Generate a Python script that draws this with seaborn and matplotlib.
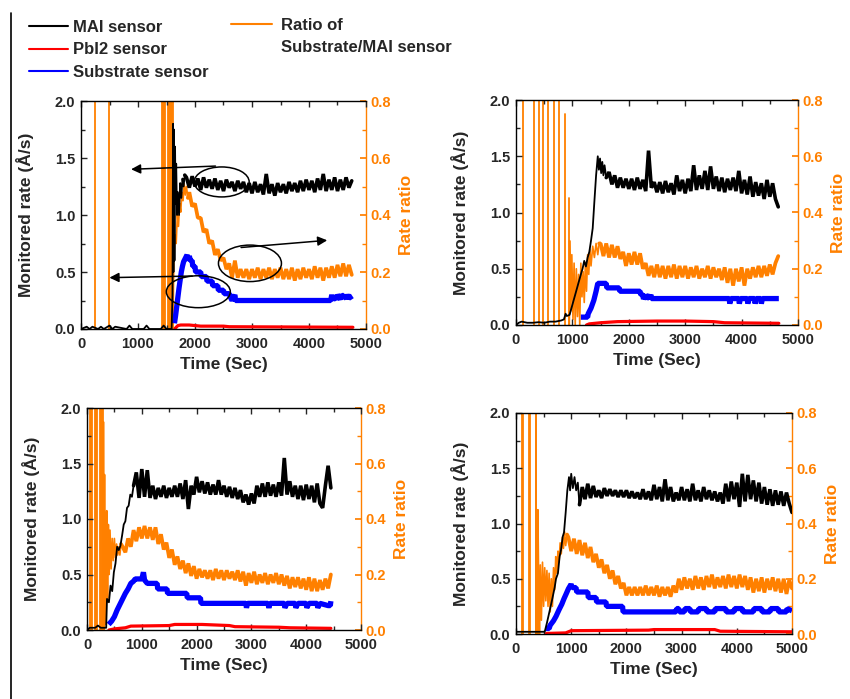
import numpy as np
import pandas as pd
import matplotlib
matplotlib.use("Agg")
import matplotlib.pyplot as plt
import seaborn as sns
from matplotlib.lines import Line2D
from matplotlib.patches import Ellipse
from matplotlib.ticker import MultipleLocator, FormatStrFormatter

sns.set_theme(style="white")
plt.rcParams['font.family'] = ['Liberation Sans', 'DejaVu Sans']
plt.rcParams['font.weight'] = 'bold'
plt.rcParams['axes.labelweight'] = 'bold'

ORANGE = '#FF8000'
STEP = 50  # sampling step (s) of the noisy plateaus

# ---------------- Panel 1 (top-left) ----------------
p1_mai_t = [0, 100, 150, 200, 300, 350, 400, 500, 550, 600, 800, 850, 900, 1100, 1150, 1200, 1400, 1450, 1500,
            1590, 1605, 1615, 1622, 1630, 1640, 1650, 1660, 1670, 1685, 1700, 1720, 1740, 1760, 1780, 1800, 1820]
p1_mai_v = [0.0, 0.02, 0.0, 0.02, 0.0, 0.02, 0.0, 0.03, 0.0, 0.02, 0.0, 0.03, 0.0, 0.0, 0.03, 0.0, 0.0, 0.03, 0.0,
            0.0, 0.3, 1.8, 0.5, 1.75, 0.6, 1.6, 1.1, 1.45, 1.0, 1.2, 1.0, 1.28, 1.15, 1.32, 1.25, 1.35]
p1_mai_start = 1850
p1_mai_reg = [1.33, 1.24, 1.34, 1.25, 1.32, 1.22, 1.33, 1.24, 1.31, 1.23, 1.32, 1.22, 1.30, 1.21, 1.31, 1.24,
              1.29, 1.21, 1.30, 1.23, 1.29, 1.20, 1.28, 1.19, 1.29, 1.20, 1.27, 1.18, 1.36, 1.19, 1.27, 1.17,
              1.28, 1.20, 1.27, 1.19, 1.29, 1.21, 1.28, 1.20, 1.30, 1.21, 1.31, 1.22, 1.30, 1.20, 1.32, 1.22,
              1.36, 1.21, 1.31, 1.22, 1.33, 1.21, 1.31, 1.22, 1.33, 1.24, 1.30]
p1_spike_t = [245, 497, 1425, 1440, 1455, 1470, 1535, 1550, 1565, 1580, 1595, 1608]
p1_spike_top = [1.0] * 12
p1_ratio_t = [1612, 1630, 1650, 1670, 1690, 1710, 1730, 1750, 1770, 1790, 1810, 1830, 1850, 1875]
p1_ratio_v = [0.0, 0.25, 0.33, 0.30, 0.40, 0.36, 0.44, 0.41, 0.48, 0.45, 0.51, 0.47, 0.50, 0.46]
p1_ratio_start = 1900
p1_ratio_reg = [0.48, 0.43, 0.44, 0.39, 0.39, 0.34, 0.35, 0.30, 0.31, 0.26, 0.28, 0.24, 0.25, 0.21, 0.23, 0.18,
                0.24, 0.18, 0.21, 0.18, 0.21, 0.175, 0.21, 0.18, 0.215, 0.175, 0.21, 0.18, 0.215, 0.175, 0.21,
                0.18, 0.215, 0.175, 0.21, 0.175, 0.215, 0.17, 0.21, 0.175, 0.215, 0.18, 0.21, 0.175, 0.22, 0.18,
                0.215, 0.17, 0.215, 0.18, 0.22, 0.18, 0.225, 0.185, 0.23, 0.185, 0.225, 0.19]
p1_sub_t = [1640, 1660, 1680, 1700, 1720, 1740, 1760, 1780, 1800, 1830, 1860, 1880, 1900, 1920, 1950, 1960, 2000,
            2010, 2100, 2110, 2200, 2210, 2300, 2310, 2400, 2410, 2500, 2510, 2600, 2620, 2650, 2700, 2710, 4380,
            4400, 4420, 4440, 4480, 4500, 4550, 4570, 4650, 4670, 4700, 4760]
p1_sub_v = [0.05, 0.12, 0.20, 0.28, 0.36, 0.43, 0.50, 0.55, 0.59, 0.62, 0.65, 0.60, 0.64, 0.60, 0.60, 0.55, 0.55,
            0.50, 0.50, 0.46, 0.46, 0.42, 0.42, 0.38, 0.38, 0.34, 0.34, 0.31, 0.31, 0.28, 0.25, 0.30, 0.25, 0.25,
            0.30, 0.25, 0.28, 0.26, 0.30, 0.26, 0.30, 0.27, 0.30, 0.27, 0.29]
p1_pbi_t = [1650, 1700, 1750, 1900, 2000, 2100, 2500, 2600, 3500, 4770]
p1_pbi_v = [0.005, 0.03, 0.035, 0.035, 0.03, 0.025, 0.025, 0.02, 0.018, 0.015]

# ---------------- Panel 2 (top-right) ----------------
p2_mai_t = [0, 50, 100, 200, 300, 400, 500, 600, 700, 800, 850, 880, 900, 950, 1150, 1180, 1210, 1240, 1270,
            1300, 1330, 1360, 1390, 1420, 1450, 1470, 1490, 1510, 1530, 1550, 1570, 1600]
p2_mai_v = [0.0, 0.02, 0.03, 0.02, 0.02, 0.025, 0.02, 0.03, 0.03, 0.04, 0.05, 0.10, 0.08, 0.09, 0.45, 0.50, 0.57,
            0.52, 0.60, 0.65, 0.75, 0.86, 1.10, 1.33, 1.50, 1.38, 1.48, 1.35, 1.45, 1.33, 1.42, 1.31]
p2_mai_start = 1650
p2_mai_reg = [1.36, 1.25, 1.33, 1.22, 1.31, 1.22, 1.30, 1.21, 1.30, 1.20, 1.31, 1.21, 1.29, 1.19, 1.55, 1.22,
              1.27, 1.18, 1.27, 1.17, 1.28, 1.18, 1.26, 1.16, 1.33, 1.19, 1.29, 1.17, 1.30, 1.19, 1.42, 1.20,
              1.33, 1.21, 1.37, 1.20, 1.41, 1.21, 1.32, 1.19, 1.31, 1.18, 1.30, 1.20, 1.31, 1.19, 1.37, 1.17,
              1.29, 1.16, 1.32, 1.14, 1.27, 1.15, 1.26, 1.12, 1.29, 1.14, 1.26, 1.12, 1.05]
p2_spike_t = [118, 325, 402, 485, 573, 680, 768, 875, 934]
p2_spike_top = [1.0, 1.0, 1.0, 1.0, 1.0, 1.0, 1.0, 0.75, 0.45]
p2_ratio_t = [946, 950, 970, 990, 1010, 1030, 1050, 1070, 1090, 1110, 1130, 1150, 1170, 1190, 1210, 1230, 1250,
              1270, 1290, 1310, 1330, 1360, 1390, 1420, 1450, 1475]
p2_ratio_v = [0.0, 0.30, 0.05, 0.25, 0.02, 0.22, 0.0, 0.20, 0.03, 0.18, 0.0, 0.22, 0.10, 0.19, 0.08, 0.22, 0.12,
              0.25, 0.18, 0.27, 0.21, 0.28, 0.24, 0.29, 0.25, 0.29]
p2_ratio_start = 1500
p2_ratio_reg = [0.29, 0.245, 0.29, 0.24, 0.285, 0.24, 0.28, 0.235, 0.26, 0.21, 0.255, 0.215, 0.26, 0.215, 0.255,
                0.20, 0.22, 0.175, 0.21, 0.17, 0.215, 0.17, 0.21, 0.165, 0.21, 0.17, 0.215, 0.165, 0.21, 0.17,
                0.21, 0.165, 0.205, 0.17, 0.21, 0.165, 0.20, 0.17, 0.21, 0.165, 0.205, 0.17, 0.20, 0.16, 0.205,
                0.15, 0.20, 0.14, 0.20, 0.155, 0.205, 0.14, 0.20, 0.165, 0.205, 0.17, 0.21, 0.17, 0.21, 0.175,
                0.215, 0.18, 0.22, 0.245]
p2_sub_t = [1150, 1270, 1280, 1330, 1380, 1420, 1450, 1600, 1610, 1830, 1840, 2200, 2210, 2250, 2260, 2300, 2310,
            2360, 2370, 2390, 2400, 3780, 3790, 3810, 3950, 3960, 3980, 4100, 4110, 4130, 4230, 4240, 4260, 4340,
            4350, 4370, 4660]
p2_sub_v = [0.07, 0.07, 0.10, 0.15, 0.22, 0.30, 0.37, 0.37, 0.33, 0.33, 0.30, 0.30, 0.27, 0.27, 0.23, 0.27, 0.23,
            0.27, 0.23, 0.27, 0.235, 0.235, 0.19, 0.235, 0.235, 0.19, 0.235, 0.235, 0.19, 0.235, 0.235, 0.19,
            0.235, 0.235, 0.19, 0.235, 0.235]
p2_pbi_t = [1250, 1300, 1500, 1800, 2500, 3000, 3500, 3700, 4660]
p2_pbi_v = [0.0, 0.01, 0.02, 0.03, 0.035, 0.035, 0.03, 0.02, 0.015]

# ---------------- Panel 3 (bottom-left) ----------------
p3_mai_t = [0, 50, 150, 200, 250, 350, 365, 400, 430, 460, 490, 520, 550, 580, 610, 640, 670, 700, 730, 760,
            790, 820, 850]
p3_mai_v = [0.0, 0.02, 0.02, 0.04, 0.02, 0.02, 0.28, 0.25, 0.40, 0.35, 0.52, 0.60, 0.75, 0.72, 0.76, 0.85, 0.95,
            0.98, 1.10, 1.12, 1.22, 1.20, 1.30]
p3_mai_start = 900
p3_mai_reg = [1.42, 1.19, 1.45, 1.20, 1.44, 1.19, 1.30, 1.18, 1.28, 1.20, 1.30, 1.19, 1.28, 1.20, 1.30, 1.20,
              1.32, 1.18, 1.35, 1.09, 1.30, 1.22, 1.38, 1.24, 1.34, 1.23, 1.33, 1.22, 1.31, 1.22, 1.35, 1.22,
              1.30, 1.20, 1.29, 1.19, 1.28, 1.18, 1.26, 1.15, 1.22, 1.13, 1.23, 1.14, 1.30, 1.20, 1.32, 1.20,
              1.33, 1.21, 1.31, 1.20, 1.33, 1.21, 1.55, 1.22, 1.34, 1.20, 1.30, 1.18, 1.30, 1.17, 1.31, 1.18,
              1.30, 1.15, 1.32, 1.14, 1.10, 1.30, 1.48, 1.28]
p3_spike_t = [60, 75, 95, 140, 160, 175, 235, 250, 270, 285]
p3_spike_top = [1.0] * 10
p3_ratio_t = [295, 300, 310, 320, 330, 340, 350, 360, 375, 390, 405, 420, 440, 460, 480, 500, 520, 540, 560, 580,
              600, 620]
p3_ratio_v = [0.0, 0.75, 0.0, 0.56, 0.02, 0.42, 0.05, 0.43, 0.10, 0.38, 0.20, 0.36, 0.22, 0.33, 0.25, 0.33, 0.26,
              0.31, 0.27, 0.30, 0.27, 0.31]
p3_ratio_start = 650
p3_ratio_reg = [0.30, 0.28, 0.33, 0.30, 0.36, 0.32, 0.37, 0.33, 0.375, 0.33, 0.37, 0.325, 0.37, 0.31, 0.345, 0.29,
                0.315, 0.26, 0.29, 0.235, 0.265, 0.22, 0.25, 0.205, 0.24, 0.195, 0.23, 0.185, 0.22, 0.19, 0.215,
                0.185, 0.215, 0.18, 0.22, 0.185, 0.215, 0.18, 0.215, 0.185, 0.21, 0.18, 0.215, 0.175, 0.21, 0.16,
                0.205, 0.17, 0.21, 0.165, 0.20, 0.17, 0.205, 0.165, 0.20, 0.17, 0.205, 0.165, 0.20, 0.16, 0.195,
                0.15, 0.19, 0.155, 0.19, 0.15, 0.185, 0.145, 0.19, 0.14, 0.185, 0.14, 0.18, 0.145, 0.185, 0.15,
                0.20]
p3_sub_t = [395, 450, 500, 550, 600, 650, 700, 750, 800, 850, 880, 1000, 1030, 1050, 1100, 1280, 1290, 1460, 1470,
            1820, 1830, 2070, 2080, 2900, 2910, 2930, 3300, 3320, 3340, 3600, 3610, 3650, 3800, 3810, 3850, 4000,
            4010, 4050, 4200, 4210, 4250, 4400, 4440, 4450]
p3_sub_v = [0.05, 0.08, 0.12, 0.18, 0.23, 0.28, 0.33, 0.37, 0.42, 0.44, 0.46, 0.46, 0.52, 0.45, 0.42, 0.42, 0.37,
            0.37, 0.33, 0.33, 0.29, 0.29, 0.24, 0.24, 0.20, 0.24, 0.24, 0.20, 0.24, 0.24, 0.20, 0.24, 0.24, 0.20,
            0.24, 0.24, 0.20, 0.24, 0.24, 0.20, 0.24, 0.22, 0.22, 0.26]
p3_pbi_t = [400, 500, 700, 800, 1500, 1600, 2100, 2600, 2700, 3500, 3700, 4450]
p3_pbi_v = [0.0, 0.01, 0.02, 0.035, 0.04, 0.05, 0.05, 0.04, 0.03, 0.025, 0.02, 0.015]

# ---------------- Panel 4 (bottom-right) ----------------
p4_mai_t = [0, 520, 560, 650, 700, 725, 760, 790, 815, 846, 870, 900, 930, 960, 980, 1000, 1030, 1060, 1090,
            1120, 1150]
p4_mai_v = [0.02, 0.02, 0.10, 0.30, 0.42, 0.50, 0.55, 0.70, 0.76, 0.88, 0.92, 1.10, 1.30, 1.42, 1.30, 1.45, 1.32,
            1.42, 1.30, 1.37, 1.17]
p4_mai_start = 1200
p4_mai_reg = [1.33, 1.22, 1.36, 1.23, 1.34, 1.24, 1.30, 1.23, 1.32, 1.25, 1.31, 1.25, 1.30, 1.24, 1.30, 1.24,
              1.30, 1.23, 1.29, 1.23, 1.28, 1.22, 1.31, 1.22, 1.29, 1.21, 1.35, 1.22, 1.33, 1.20, 1.40, 1.21,
              1.33, 1.20, 1.28, 1.21, 1.33, 1.21, 1.31, 1.20, 1.36, 1.21, 1.30, 1.20, 1.33, 1.22, 1.30, 1.21,
              1.29, 1.20, 1.28, 1.18, 1.36, 1.20, 1.38, 1.22, 1.37, 1.15, 1.45, 1.20, 1.44, 1.22, 1.39, 1.20,
              1.37, 1.18, 1.33, 1.17, 1.31, 1.16, 1.30, 1.17, 1.29, 1.16, 1.28, 1.18, 1.10]
p4_spike_t = [116, 126, 237, 247, 357, 367]
p4_spike_top = [1.0] * 6
p4_ratio_t = [393, 396, 410, 425, 440, 460, 480, 500, 520, 540, 560, 580, 600, 620, 640, 660, 680, 700, 720, 740,
              760, 780, 800, 820, 840, 860, 880, 900, 925]
p4_ratio_v = [0.0, 0.45, 0.20, 0.0, 0.25, 0.05, 0.26, 0.10, 0.24, 0.12, 0.23, 0.10, 0.22, 0.08, 0.20, 0.10, 0.24,
              0.16, 0.28, 0.22, 0.30, 0.26, 0.33, 0.29, 0.35, 0.31, 0.37, 0.32, 0.36]
p4_ratio_start = 950
p4_ratio_reg = [0.35, 0.30, 0.345, 0.29, 0.34, 0.285, 0.33, 0.275, 0.315, 0.26, 0.29, 0.24, 0.27, 0.22, 0.25, 0.20,
                0.23, 0.18, 0.21, 0.165, 0.185, 0.14, 0.17, 0.14, 0.17, 0.14, 0.17, 0.14, 0.175, 0.14, 0.17, 0.14,
                0.175, 0.135, 0.17, 0.14, 0.17, 0.135, 0.175, 0.15, 0.20, 0.16, 0.205, 0.165, 0.20, 0.16, 0.21,
                0.165, 0.205, 0.16, 0.21, 0.17, 0.215, 0.165, 0.205, 0.17, 0.21, 0.165, 0.215, 0.17, 0.21, 0.165,
                0.215, 0.17, 0.21, 0.16, 0.205, 0.15, 0.20, 0.155, 0.205, 0.15, 0.20, 0.16, 0.205, 0.155, 0.20,
                0.15, 0.20, 0.145, 0.195, 0.165]
p4_sub_t = [544, 600, 620, 680, 725, 780, 830, 870, 906, 950, 997, 1020, 1087, 1100, 1300, 1310, 1450, 1460, 1630,
            1640, 1930, 1940, 2900, 2910, 2950, 2960, 3050, 3060, 3150, 3160, 3300, 3310, 3450, 3460, 3600, 3610,
            3800, 3810, 3950, 3960, 4100, 4110, 4300, 4310, 4450, 4460, 4600, 4610, 4750, 4760, 4900, 4910, 5000]
p4_sub_v = [0.05, 0.05, 0.08, 0.12, 0.16, 0.22, 0.27, 0.32, 0.36, 0.41, 0.45, 0.42, 0.42, 0.38, 0.38, 0.33, 0.33,
            0.29, 0.29, 0.25, 0.25, 0.20, 0.20, 0.23, 0.23, 0.20, 0.20, 0.23, 0.23, 0.20, 0.20, 0.23, 0.23, 0.20,
            0.20, 0.23, 0.23, 0.20, 0.20, 0.23, 0.23, 0.20, 0.20, 0.23, 0.23, 0.20, 0.20, 0.23, 0.23, 0.20, 0.20,
            0.23, 0.21]
p4_pbi_t = [550, 900, 1000, 2400, 2500, 3600, 3700, 5000]
p4_pbi_v = [0.005, 0.01, 0.03, 0.035, 0.04, 0.04, 0.025, 0.02]

# annotation geometry of panel 1 (data units of left axis)
ell_xy = [(2468, 1.29), (2964, 0.576), (2058, 0.327)]
ell_w = [965, 1105, 1123]
ell_h = [0.263, 0.32, 0.28]
arrow_from = [(2408, 1.43), (2760, 0.713), (2000, 0.465)]
arrow_to = [(830, 1.40), (4368, 0.78), (450, 0.45)]

# legend texts
legend_labels = ['MAI sensor', 'PbI2 sensor', 'Substrate sensor']
ratio_labels = ['Ratio of', 'Substrate/MAI sensor']


def regular(start, vals):
    return list(start + STEP * np.arange(len(vals)))


def frame(segments):
    rows = []
    for i, (t, v) in enumerate(segments):
        for a, b in zip(t, v):
            rows.append((a, b, i))
    return pd.DataFrame(rows, columns=['t', 'v', 'seg'])


def line(df, ax, color, lw, **kw):
    sns.lineplot(data=df, x='t', y='v', units='seg', estimator=None, sort=False,
                 color=color, lw=lw, ax=ax, legend=False, **kw)


def noisy(ax, t, v, start, reg, color, lw_thin, lw_thick):
    line(frame([(t, v)]), ax, color, lw_thin)
    line(frame([([t[-1]] + regular(start, reg), [v[-1]] + reg)]), ax, color, lw_thick,
         solid_joinstyle='bevel')


W, H = 850, 699
fig = plt.figure(figsize=(8.5, 6.99), dpi=100)


def draw_panel(px, P):
    l, t, r, b = px
    rect = [l / W, 1 - b / H, (r - l) / W, (b - t) / H]
    ax2 = fig.add_axes(rect)
    ax = fig.add_axes(rect, sharex=ax2)
    ax.patch.set_visible(False)
    ax.set_zorder(ax2.get_zorder() + 1)

    # ratio on ax2 (right axis)
    segs = [([s, s], [0.0, top]) for s, top in zip(P['spike_t'], P['spike_top'])]
    line(frame(segs), ax2, ORANGE, 1.3)
    noisy(ax2, P['ratio_t'], P['ratio_v'], P['ratio_start'], P['ratio_reg'], ORANGE, 1.2, 2.7)
    # left-axis sensors
    line(frame([(P['pbi_t'], P['pbi_v'])]), ax, 'red', 2.3)
    line(frame([(P['sub_t'], P['sub_v'])]), ax, 'blue', 3.8, solid_joinstyle='bevel', solid_capstyle='butt')
    noisy(ax, P['mai_t'], P['mai_v'], P['mai_start'], P['mai_reg'], 'black', 1.3, 2.6)

    ax.set_xlim(0, 5000)
    ax.set_ylim(0, 2.0)
    ax2.set_ylim(0, 0.8)

    ax.yaxis.set_label_position('left')
    ax.yaxis.tick_left()
    ax2.yaxis.tick_right()
    ax2.yaxis.set_label_position('right')

    ax.xaxis.set_major_locator(MultipleLocator(1000))
    ax.xaxis.set_minor_locator(MultipleLocator(500))
    ax.yaxis.set_major_locator(MultipleLocator(0.5))
    ax.yaxis.set_minor_locator(MultipleLocator(0.25))
    ax.yaxis.set_major_formatter(FormatStrFormatter('%.1f'))
    ax2.yaxis.set_major_locator(MultipleLocator(0.2))
    ax2.yaxis.set_minor_locator(MultipleLocator(0.1))
    ax2.yaxis.set_major_formatter(FormatStrFormatter('%.1f'))

    ax.tick_params(axis='x', which='both', direction='in', top=True, bottom=True, labelsize=10.5, pad=6)
    ax.tick_params(axis='y', which='both', direction='in', left=True, right=False, labelsize=10.5, pad=4)
    ax.tick_params(which='major', length=4, width=1)
    ax.tick_params(which='minor', length=3, width=1)
    ax2.tick_params(axis='y', which='both', direction='in', colors=ORANGE, labelsize=10.5, pad=3,
                    right=True, left=False, labelright=True, labelleft=False)
    ax2.tick_params(which='major', length=4)
    ax2.tick_params(which='minor', length=3)
    ax2.tick_params(axis='x', which='both', bottom=False, top=False, labelbottom=False)

    for sp in ax.spines.values():
        sp.set_color('black')
        sp.set_linewidth(1.0)
    ax.spines['right'].set_visible(False)
    for name, sp in ax2.spines.items():
        sp.set_visible(name == 'right')
    ax2.spines['right'].set_color(ORANGE)
    ax2.spines['right'].set_linewidth(1.0)

    ax.set_xlabel('Time (Sec)', fontsize=12.5, labelpad=4)
    ax.set_ylabel('Monitored rate (Å/s)', fontsize=12.5, labelpad=15)
    ax2.set_ylabel('Rate ratio', fontsize=12.5, color=ORANGE, labelpad=6)
    ax2.set_xlabel('')
    return ax, ax2


def pack(prefix):
    g = globals()
    keys = ['mai_t', 'mai_v', 'mai_start', 'mai_reg', 'spike_t', 'spike_top', 'ratio_t', 'ratio_v',
            'ratio_start', 'ratio_reg', 'sub_t', 'sub_v', 'pbi_t', 'pbi_v']
    return {k: g[prefix + '_' + k] for k in keys}


ax1, _ = draw_panel((81, 101, 366, 329), pack('p1'))
draw_panel((516, 100, 798, 325), pack('p2'))
draw_panel((87, 408, 361, 630), pack('p3'))
draw_panel((516, 413, 792, 634), pack('p4'))

# annotations of panel 1
for (xy, w, h) in zip(ell_xy, ell_w, ell_h):
    ax1.add_patch(Ellipse(xy, w, h, fill=False, edgecolor='black', lw=1.1, zorder=6))
for s, e in zip(arrow_from, arrow_to):
    ax1.annotate('', xy=e, xytext=s, xycoords='data', textcoords='data',
                 arrowprops=dict(arrowstyle='-|>', color='black', lw=1.1, mutation_scale=14), zorder=6)

# legends
handles = [Line2D([], [], color=c, lw=1.5) for c in ['black', 'red', 'blue']]
fig.legend(handles, legend_labels, loc='upper left', bbox_to_anchor=(29 / W, 1 - 20 / H), frameon=False,
           fontsize=12, handlelength=2.35, handletextpad=0.3, labelspacing=0.45, borderpad=0, borderaxespad=0)
rhandles = [Line2D([], [], color=ORANGE, lw=1.5), Line2D([], [], color='none')]
fig.legend(rhandles, ratio_labels, loc='upper left', bbox_to_anchor=(231 / W, 1 - 18 / H), frameon=False,
           fontsize=12, handlelength=2.45, handletextpad=0.55, labelspacing=0.45, borderpad=0, borderaxespad=0)

# left border line
fig.add_artist(Line2D([11 / W, 11 / W], [0, 1 - 13 / H], transform=fig.transFigure, color='black', lw=1.2))

fig.savefig('out.png', dpi=100)
